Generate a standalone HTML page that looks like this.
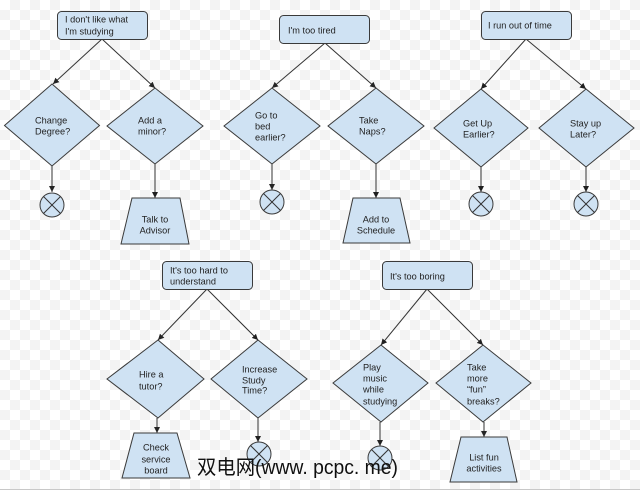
<!DOCTYPE html>
<html><head><meta charset="utf-8"><style>
html,body{margin:0;padding:0;background:#fff;}
body{width:640px;height:490px;overflow:hidden;}
svg{display:block;}
text{font-family:"Liberation Sans",Arial,sans-serif;font-size:9.2px;fill:#222;}
.s{fill:#cfe2f3;stroke:#3a3a3a;stroke-width:1;}
.l{stroke:#333;stroke-width:1;fill:none;}
.a{fill:#222;stroke:none;}
</style></head><body>
<svg width="640" height="490" viewBox="0 0 640 490" xmlns="http://www.w3.org/2000/svg">
<defs>
<pattern id="ck" width="20" height="20" patternUnits="userSpaceOnUse">
<rect width="20" height="20" fill="#fff"/>
<rect x="10" y="0" width="10" height="10" fill="#f3f3f3"/>
<rect x="0" y="10" width="10" height="10" fill="#f3f3f3"/>
</pattern>
<marker id="ar" markerWidth="8" markerHeight="8" refX="6" refY="3" orient="auto" markerUnits="userSpaceOnUse">
<path d="M0,0 L6,3 L0,6 z" fill="#222"/>
</marker>
</defs>
<rect width="640" height="490" fill="url(#ck)"/>
<line x1="0" y1="489.5" x2="640" y2="489.5" stroke="#c8c8c8" stroke-width="1"/>

<!-- ===== Group 1 ===== -->
<line class="l" x1="102" y1="39" x2="53" y2="84" marker-end="url(#ar)"/>
<line class="l" x1="102" y1="39" x2="155" y2="88" marker-end="url(#ar)"/>
<rect class="s" x="57.5" y="11.5" width="90" height="28" rx="4"/>
<text x="65" y="22.3">I don't like what</text>
<text x="65" y="34.3">I'm studying</text>
<polygon class="s" points="52,84 99.5,125.5 52,166 4.5,125.5"/>
<text x="35" y="123.3">Change</text>
<text x="35" y="134.3">Degree?</text>
<polygon class="s" points="155,88 203,126 155,164 107,126"/>
<text x="138" y="123.3">Add a</text>
<text x="138" y="134.3">minor?</text>
<line class="l" x1="52" y1="166" x2="52" y2="192" marker-end="url(#ar)"/>
<circle class="s" cx="52" cy="205" r="12"/>
<line class="l" x1="43.5" y1="196.5" x2="60.5" y2="213.5"/>
<line class="l" x1="60.5" y1="196.5" x2="43.5" y2="213.5"/>
<line class="l" x1="155" y1="164" x2="155" y2="198" marker-end="url(#ar)"/>
<polygon class="s" points="132,198 180,198 189,244 121,244"/>
<text x="155" y="222.3" text-anchor="middle">Talk to</text>
<text x="155" y="233.3" text-anchor="middle">Advisor</text>

<!-- ===== Group 2 ===== -->
<line class="l" x1="325" y1="43" x2="272" y2="88" marker-end="url(#ar)"/>
<line class="l" x1="325" y1="43" x2="376" y2="88" marker-end="url(#ar)"/>
<rect class="s" x="279.5" y="15.5" width="90" height="28" rx="4"/>
<text x="288" y="33.3">I'm too tired</text>
<polygon class="s" points="272,88 320,126 272,164 224,126"/>
<text x="255" y="118.3">Go to</text>
<text x="255" y="129.3">bed</text>
<text x="255" y="140.3">earlier?</text>
<polygon class="s" points="376,88 424,126 376,164 328,126"/>
<text x="359" y="123.3">Take</text>
<text x="359" y="134.3">Naps?</text>
<line class="l" x1="272" y1="164" x2="272" y2="190" marker-end="url(#ar)"/>
<circle class="s" cx="272" cy="202" r="12"/>
<line class="l" x1="263.5" y1="193.5" x2="280.5" y2="210.5"/>
<line class="l" x1="280.5" y1="193.5" x2="263.5" y2="210.5"/>
<line class="l" x1="376" y1="164" x2="376" y2="198" marker-end="url(#ar)"/>
<polygon class="s" points="353,198 400,198 410,243 343,243"/>
<text x="376" y="222.3" text-anchor="middle">Add to</text>
<text x="376" y="233.3" text-anchor="middle">Schedule</text>

<!-- ===== Group 3 ===== -->
<line class="l" x1="526" y1="39" x2="481" y2="89" marker-end="url(#ar)"/>
<line class="l" x1="526" y1="39" x2="586" y2="89" marker-end="url(#ar)"/>
<rect class="s" x="481.5" y="11.5" width="90" height="28" rx="4"/>
<text x="488" y="28.3">I run out of time</text>
<polygon class="s" points="481,89 528,128 481,167 434,128"/>
<text x="463" y="126.3">Get Up</text>
<text x="463" y="137.3">Earlier?</text>
<polygon class="s" points="586,89 634,128 586,167 539,128"/>
<text x="570" y="126.3">Stay up</text>
<text x="570" y="137.3">Later?</text>
<line class="l" x1="481" y1="167" x2="481" y2="192" marker-end="url(#ar)"/>
<circle class="s" cx="481" cy="204" r="12"/>
<line class="l" x1="472.5" y1="195.5" x2="489.5" y2="212.5"/>
<line class="l" x1="489.5" y1="195.5" x2="472.5" y2="212.5"/>
<line class="l" x1="586" y1="167" x2="586" y2="192" marker-end="url(#ar)"/>
<circle class="s" cx="586" cy="204" r="12"/>
<line class="l" x1="577.5" y1="195.5" x2="594.5" y2="212.5"/>
<line class="l" x1="594.5" y1="195.5" x2="577.5" y2="212.5"/>

<!-- ===== Group 4 ===== -->
<line class="l" x1="207" y1="289" x2="158" y2="340" marker-end="url(#ar)"/>
<line class="l" x1="207" y1="289" x2="258" y2="340" marker-end="url(#ar)"/>
<rect class="s" x="162.5" y="261.5" width="90" height="28" rx="4"/>
<text x="170" y="273.3">It's too hard to</text>
<text x="170" y="284.3">understand</text>
<polygon class="s" points="158,340 204,379 158,418 107,379"/>
<text x="139" y="377.3">Hire a</text>
<text x="139" y="389.3">tutor?</text>
<polygon class="s" points="258,340 307,379 258,418 211,379"/>
<text x="242" y="372.3">Increase</text>
<text x="242" y="383.3">Study</text>
<text x="242" y="393.3">Time?</text>
<line class="l" x1="157" y1="418" x2="157" y2="433" marker-end="url(#ar)"/>
<polygon class="s" points="134,433 177,433 190,478 122,478"/>
<text x="156" y="450.3" text-anchor="middle">Check</text>
<text x="156" y="462.3" text-anchor="middle">service</text>
<text x="156" y="473.3" text-anchor="middle">board</text>
<line class="l" x1="258" y1="418" x2="258" y2="442" marker-end="url(#ar)"/>
<circle class="s" cx="259" cy="454" r="12"/>
<line class="l" x1="250.5" y1="445.5" x2="267.5" y2="462.5"/>
<line class="l" x1="267.5" y1="445.5" x2="250.5" y2="462.5"/>

<!-- ===== Group 5 ===== -->
<line class="l" x1="427" y1="289" x2="381" y2="345" marker-end="url(#ar)"/>
<line class="l" x1="427" y1="289" x2="483" y2="345" marker-end="url(#ar)"/>
<rect class="s" x="382.5" y="261.5" width="90" height="28" rx="4"/>
<text x="390" y="279.3">It's too boring</text>
<polygon class="s" points="381,345 428,383 381,422 333,383"/>
<text x="363" y="370.3">Play</text>
<text x="363" y="381.3">music</text>
<text x="363" y="392.3">while</text>
<text x="363" y="404.3">studying</text>
<polygon class="s" points="483,345 531,383 483,422 436,383"/>
<text x="467" y="370.3">Take</text>
<text x="467" y="381.3">more</text>
<text x="467" y="392.3">“fun”</text>
<text x="467" y="404.3">breaks?</text>
<line class="l" x1="380" y1="422" x2="380" y2="446" marker-end="url(#ar)"/>
<circle class="s" cx="380" cy="458" r="12"/>
<line class="l" x1="371.5" y1="449.5" x2="388.5" y2="466.5"/>
<line class="l" x1="388.5" y1="449.5" x2="371.5" y2="466.5"/>
<line class="l" x1="484" y1="422" x2="484" y2="437" marker-end="url(#ar)"/>
<polygon class="s" points="461,437 507,437 517,482 450,482"/>
<text x="484" y="460.3" text-anchor="middle">List fun</text>
<text x="484" y="471.3" text-anchor="middle">activities</text>

<!-- watermark -->
<text x="197" y="474" style="font-family:'Liberation Sans','WenQuanYi Zen Hei','Noto Sans CJK SC',sans-serif;font-size:20px;fill:#111;" textLength="201" lengthAdjust="spacingAndGlyphs">双电网(www. pcpc. me)</text>
</svg>
</body></html>
